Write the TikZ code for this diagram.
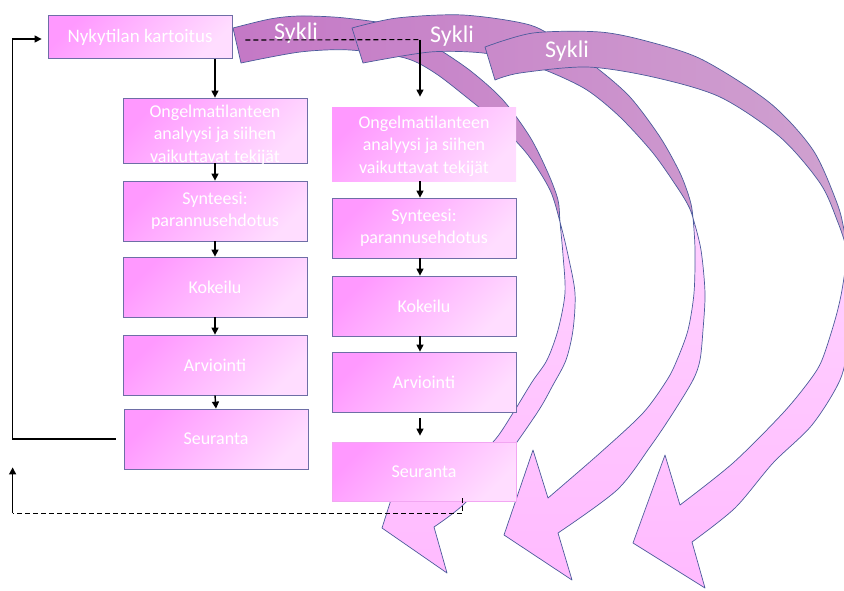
\documentclass[tikz,border=0pt]{standalone}
\usepackage{fontspec}
\setmainfont{Carlito}
\usetikzlibrary{arrows.meta,calc}

\definecolor{boxhi}{HTML}{FF99FF}
\definecolor{boxlo}{HTML}{FFDDFF}
\definecolor{boxline}{HTML}{6E6EA6}
\definecolor{softline}{HTML}{F2A6F2}
\definecolor{backleft}{HTML}{C478C6}
\definecolor{backright}{HTML}{D0A2D0}
\definecolor{fronttop}{HTML}{FFD0FF}
\definecolor{frontbottom}{HTML}{FFBAFF}
\definecolor{ribbonline}{HTML}{4B5B9B}

\tikzset{
  stagebox/.style={draw=boxline, line width=0.8pt, top color=boxhi, bottom color=boxlo,
    shading angle=45, text=white, font=\fontsize{18}{22.5}\selectfont, align=center,
    inner sep=0pt, minimum width=184pt},
  plainbox/.style={stagebox, draw=none},
  softbox/.style={stagebox, draw=softline},
  boxtext/.style={text=white, font=\fontsize{18}{22.5}\selectfont, align=center, inner sep=0pt},
  ribbonedge/.style={draw=ribbonline, line width=0.7pt, line join=round},
  cyclelabel/.style={text=white, font=\fontsize{24}{28}\selectfont, anchor=base, inner sep=0pt},
  conn/.style={draw=black, line width=1.4pt, -{Triangle[length=7pt,width=7pt]}},
  dashline/.style={draw=black, line width=1.1pt, dash pattern=on 5pt off 3pt},
}

% a twisted ribbon: back face above the twist level, front face below it
\newcommand\paintribbon[2]{%
  \begin{scope}
    \clip (0,0) rectangle (844,#2);
    \clip[use path=#1];
    \shade[left color=backleft, right color=backright] (230,0) rectangle (850,#2);
  \end{scope}
  \begin{scope}
    \clip (0,#2) rectangle (844,590);
    \clip[use path=#1];
    \shade[top color=fronttop, bottom color=frontbottom] (370,#2) rectangle (850,590);
  \end{scope}
  \path[ribbonedge, use path=#1];}

\begin{document}
\begin{tikzpicture}[x=1pt,y=-1pt]
\useasboundingbox (0,0) rectangle (844,590);
\clip (0,0) rectangle (844,590);

% first cycle ribbon
\path[save path=\ribbonA]
  plot[smooth] coordinates {(233,28) (270,19) (300,16) (345,18) (400,27) (440,50) (472,72) (503,100) (530,137) (548,173) (558,200) (560,222) (563,255) (565,293) (558,330) (547,360) (532,382) (513,413) (493,442) (460,468) (424,492)}
  -- (409,443) -- (382,528) -- (447,573)
  -- plot[smooth] coordinates {(434,527) (463,505) (500,465) (537,413) (553,385) (566,360) (573,330) (575,293) (568,255) (560,222) (550,190) (528,155) (500,125) (470,100) (435,73) (405,58) (350,50) (300,52) (241,63)}
  -- cycle;
\paintribbon{\ribbonA}{222}

% second cycle ribbon
\path[save path=\ribbonB]
  plot[smooth] coordinates {(352,28) (397,18) (463,15) (530,25) (565,45) (597,68) (630,97) (660,137) (680,173) (690,200) (693,218) (695,250) (694,293) (688,330) (677,360) (667,380) (643,413) (600,453) (548,498)}
  -- (533,450) -- (504,535) -- (572,580)
  -- plot[smooth] coordinates {(558,533) (617,490) (650,447) (673,413) (693,380) (700,360) (703,330) (705,293) (701,250) (693,218) (688,205) (677,187) (653,153) (620,117) (587,90) (550,72) (520,62) (483,53) (430,52) (363,63)}
  -- cycle;
\paintribbon{\ribbonB}{218}

% third cycle ribbon
\path[save path=\ribbonC]
  plot[smooth] coordinates {(485,47) (533,33) (600,32) (650,42) (703,60) (770,103) (813,150) (837,203) (844,230) (847,252) (842,290) (835,320) (822,360) (810,380) (783,413) (733,463) (680,505)}
  -- (665,455) -- (633,543) -- (705,588)
  -- plot[smooth] coordinates {(692,542) (735,508) (773,463) (812,425) (840,380) (849,340) (851,300) (847,252) (837,220) (820,183) (780,137) (720,97) (653,77) (587,67) (520,73) (495,80)}
  -- cycle;
\paintribbon{\ribbonC}{252}

% ribbon labels
\node[cyclelabel] (lab1) at (296,39) {Sykli};
\node[cyclelabel] (lab2) at (452,42) {Sykli};
\node[cyclelabel] (lab3) at (567,57) {Sykli};

% first round of stages
\node[stagebox, minimum width=184pt, minimum height=43pt, font=\fontsize{19}{22}\selectfont] (nyk) at (140,37) {Nykytilan kartoitus};
\node[stagebox, minimum height=65pt] (o1) at (215,130.5) {};
\node[boxtext] (o1text) at ($(o1.center)+(0,4.5)$) {Ongelmatilanteen\\analyysi ja siihen\\vaikuttavat tekijät};
\node[stagebox, minimum height=60pt] (s1) at (215,211) {Synteesi:\\parannusehdotus};
\node[stagebox, minimum height=60pt] (k1) at (215,287) {Kokeilu};
\node[stagebox, minimum height=60pt] (a1) at (215,365) {Arviointi};
\node[stagebox, minimum height=60pt] (se1) at (216,439) {Seuranta};

% second round of stages
\node[plainbox, minimum height=74pt] (o2) at (424,144) {};
\node[boxtext] (o2text) at ($(o2.center)+(0,2)$) {Ongelmatilanteen\\analyysi ja siihen\\vaikuttavat tekijät};
\node[stagebox, minimum height=60pt] (s2) at (424,228) {Synteesi:\\parannusehdotus};
\node[stagebox, minimum height=60pt] (k2) at (424,306) {Kokeilu};
\node[stagebox, minimum height=60pt] (a2) at (424,382) {Arviointi};
\node[softbox, minimum height=59pt] (se2) at (424,471.5) {Seuranta};

% flow inside the first round
\draw[conn] (nyk.south -| o1.north) -- (o1.north);
\draw[conn] (o1.south) -- (s1.north);
\draw[conn] (s1.south) -- (k1.north);
\draw[conn] (k1.south) -- (a1.north);
\draw[conn] (a1.south) -- (se1.north);

% feedback from follow-up to the survey
\draw[conn, shorten >=6pt] ([xshift=-8pt]se1.west) -- ++(-103,0) |- ([yshift=-2pt]nyk.west);

% hand-over to the second round
\coordinate (hand) at ($(nyk.east)+(13,3)$);
\coordinate (drop) at ($(o2.north)+(-4,-67)$);
\draw[dashline] (hand) -- (drop);
\draw[conn, shorten >=10pt] (drop) -- ([xshift=-4pt]o2.north);

% flow inside the second round
\draw[conn] ([xshift=-4pt]o2.south) -- ([xshift=-4pt]s2.north);
\draw[conn] ([xshift=-4pt]s2.south) -- ([xshift=-4pt]k2.north);
\draw[conn] ([xshift=-4pt]k2.south) -- ([xshift=-4pt]a2.north);
\draw[conn, shorten <=6pt, shorten >=6pt] ([xshift=-4pt]a2.south) -- ([xshift=-4pt]se2.north);

% return path from the second follow-up
\coordinate (back0) at ($(se2.south west)+(131,-3)$);
\draw[dashline] (back0) -- ++(0,15) -- ++(-450,0) coordinate (back1);
\coordinate (back2) at ($(back1)+(0,-46)$);
\draw[conn] (back1) -- (back2);
\end{tikzpicture}
\end{document}
